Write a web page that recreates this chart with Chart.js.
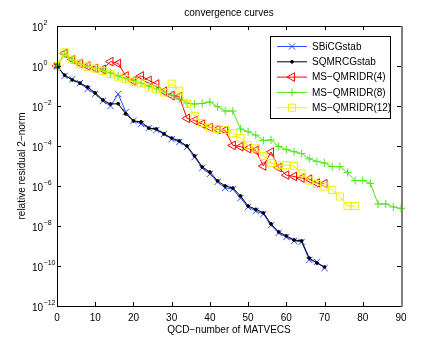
<!DOCTYPE html>
<html lang="en">
<head>
    <meta charset="UTF-8">
    <title>convergence curves</title>
    <script src="https://cdn.jsdelivr.net/npm/chart.js"></script>
    <style>
        body { margin: 0; background: #fff; }
        canvas { display: block; }
    </style>
</head>
<body>
    <canvas id="convChart" width="443" height="346"></canvas>

    <script>
        // number of matvecs at each iterate (x values)
        const matvecs = [0, 2, 4, 6, 8, 10, 12, 14, 16, 18, 20, 22, 24, 26, 28, 30, 32, 34, 36, 38,
                         40, 42, 44, 46, 48, 50, 52, 54, 56, 58, 60, 62, 64, 66, 68, 70, 72, 74, 76, 78,
                         80, 82, 84, 86, 88, 90];

        // relative residual norms
        const sbicgstab = [1, 3.2e-1, 2.2e-1, 1.4e-1, 7.1e-2, 4.0e-2, 1.8e-2, 1.0e-2, 4.0e-2, 5.0e-3,
                           1.8e-3, 1.26e-3, 7.9e-4, 6.3e-4, 4.0e-4, 2.2e-4, 1.6e-4, 8.9e-5, 2.8e-5, 7.9e-6,
                           4.0e-6, 1.6e-6, 7.9e-7, 7.1e-7, 2.5e-7, 8.9e-8, 5.6e-8, 4.0e-8, 1.1e-8, 4.5e-9,
                           2.8e-9, 1.8e-9, 1.6e-9, 2.0e-10, 1.6e-10, 7.9e-11];
        const sqmrcgstab = [1, 3.5e-1, 2.0e-1, 1.4e-1, 8.9e-2, 4.5e-2, 2.0e-2, 1.26e-2, 1.3e-2, 4.0e-3,
                            1.8e-3, 1.6e-3, 7.9e-4, 7.1e-4, 4.0e-4, 2.5e-4, 1.8e-4, 1.0e-4, 3.2e-5, 8.9e-6,
                            5.0e-6, 1.8e-6, 1.0e-6, 7.9e-7, 3.2e-7, 1.0e-7, 6.8e-8, 4.5e-8, 1.26e-8, 5.0e-9,
                            3.2e-9, 2.0e-9, 1.8e-9, 2.5e-10, 1.4e-10, 8.9e-11];
        const qmridr4 = [1, 4.3, 2.1, 1.35, 1.0, 7.6e-1, 6.8e-1, 1.66, 1.35, 3.2e-1,
                         1.8e-1, 3.2e-1, 1.9e-1, 1.26e-1, 5.4e-2, 3.3e-2, 3.0e-2, 2.4e-3, 1.9e-3, 1.26e-3,
                         8.5e-4, 6.8e-4, 6.0e-4, 1.07e-4, 9.3e-5, 7.4e-5, 6.0e-5, 1.0e-5, 5.0e-5, 8.3e-6,
                         3.5e-6, 3.0e-6, 2.5e-6, 2.2e-6, 1.4e-6, 1.3e-6];
        const qmridr8 = [1, 4.0, 2.0, 1.32, 9.5e-1, 7.6e-1, 6.0e-1, 4.5e-1, 3.2e-1, 2.4e-1,
                         1.9e-1, 1.4e-1, 1.0e-1, 7.1e-2, 5.0e-2, 3.5e-2, 2.2e-2, 1.4e-2, 1.26e-2, 1.35e-2,
                         1.6e-2, 9.3e-3, 5.6e-3, 5.6e-3, 7.1e-4, 5.2e-4, 3.5e-4, 1.9e-4, 2.0e-4, 9.5e-5,
                         6.6e-5, 5.2e-5, 4.2e-5, 2.3e-5, 1.7e-5, 1.4e-5, 9.3e-6, 9.3e-6, 4.7e-6, 1.86e-6,
                         1.9e-6, 1.35e-6, 1.26e-7, 1.26e-7, 8.9e-8, 7.6e-8];
        const qmridr12 = [1, 4.8, 2.1, 1.35, 9.3e-1, 7.4e-1, 5.6e-1, 4.0e-1, 2.7e-1, 2.2e-1,
                          1.66e-1, 1.35e-1, 8.5e-2, 6.8e-2, 4.7e-2, 1.3e-1, 5.9e-2, 1.26e-2, 3.2e-3, 1.4e-3,
                          8.3e-4, 7.1e-4, 6.3e-4, 4.3e-4, 2.5e-4, 1.1e-4, 7.6e-5, 3.2e-5, 1.4e-5, 1.1e-5,
                          1.1e-5, 1.0e-5, 4.3e-6, 1.86e-6, 1.26e-6, 9.3e-7, 6.3e-7, 3.0e-7, 1.0e-7, 1.0e-7];

        const seriesNames = ['SBiCGstab', 'SQMRCGstab', 'MS\u2212QMRIDR(4)', 'MS\u2212QMRIDR(8)', 'MS\u2212QMRIDR(12)'];

        // tick labels
        const xTicks = [0, 10, 20, 30, 40, 50, 60, 70, 80, 90];
        const yTickExps = [2, 0, -2, -4, -6, -8, -10, -12];

        const FONT = '"Liberation Sans", Arial, Helvetica, sans-serif';

        function toPoints(values) {
            return values.map((v, i) => ({ x: matvecs[i], y: v }));
        }

        const styles = [
            { color: '#2a4dff', pointStyle: 'crossRot', radius: 4.5, rotation: 0, fill: 'rgba(0,0,0,0)', order: 5 },
            { color: '#000000', pointStyle: 'circle', radius: 1.4, rotation: 0, fill: '#000000', order: 4 },
            { color: '#ff0000', pointStyle: 'triangle', radius: 5, rotation: 270, fill: 'rgba(0,0,0,0)', order: 3 },
            { color: '#4fe61a', pointStyle: 'cross', radius: 4, rotation: 0, fill: 'rgba(0,0,0,0)', order: 2 },
            { color: '#f0f000', pointStyle: 'rect', radius: 5, rotation: 0, fill: 'rgba(0,0,0,0)', order: 1 },
        ];
        const seriesData = [sbicgstab, sqmrcgstab, qmridr4, qmridr8, qmridr12];

        // axes, frame, labels and the boxed legend, matlab style
        const framePlugin = {
            id: 'frame',
            afterDraw(chart) {
                const ctx = chart.ctx;
                const area = chart.chartArea;
                const xs = chart.scales.x;
                const ys = chart.scales.y;
                ctx.save();

                // inward ticks
                ctx.strokeStyle = '#000';
                ctx.lineWidth = 1;
                ctx.beginPath();
                xTicks.forEach(v => {
                    const px = Math.round(xs.getPixelForValue(v)) + 0.5;
                    ctx.moveTo(px, area.bottom); ctx.lineTo(px, area.bottom - 4);
                    ctx.moveTo(px, area.top); ctx.lineTo(px, area.top + 4);
                });
                yTickExps.forEach(e => {
                    const py = Math.round(ys.getPixelForValue(Math.pow(10, e))) + 0.5;
                    ctx.moveTo(area.left, py); ctx.lineTo(area.left + 4, py);
                    ctx.moveTo(area.right, py); ctx.lineTo(area.right - 4, py);
                });
                ctx.stroke();

                // frame
                ctx.beginPath();
                ctx.moveTo(area.left + 0.5, area.top + 0.5);
                ctx.lineTo(area.left + 0.5, area.bottom + 0.5);
                ctx.lineTo(area.right, area.bottom + 0.5);
                ctx.moveTo(area.left, area.top + 0.5);
                ctx.lineTo(area.right, area.top + 0.5);
                ctx.stroke();
                ctx.strokeStyle = '#7f7f7f';
                ctx.lineWidth = 2;
                ctx.beginPath();
                ctx.moveTo(area.right + 1, area.top);
                ctx.lineTo(area.right + 1, area.bottom + 1);
                ctx.stroke();

                // tick labels
                ctx.fillStyle = '#000';
                ctx.font = '10px ' + FONT;
                ctx.textAlign = 'center';
                ctx.textBaseline = 'alphabetic';
                xTicks.forEach(v => {
                    ctx.fillText(String(v), xs.getPixelForValue(v), area.bottom + 15);
                });
                yTickExps.forEach(e => {
                    const py = ys.getPixelForValue(Math.pow(10, e));
                    ctx.textAlign = 'left';
                    ctx.font = '10px ' + FONT;
                    ctx.fillText('10', 32, py + 5);
                    const w = ctx.measureText('10').width;
                    ctx.font = '7px ' + FONT;
                    ctx.fillText(e < 0 ? '\u2212' + Math.abs(e) : String(e), 32 + w + 0.5, py - 1);
                });

                // titles
                ctx.font = '10px ' + FONT;
                ctx.textAlign = 'center';
                ctx.fillText('convergence curves', (area.left + area.right) / 2, 16);
                ctx.fillText('QCD\u2212number of MATVECS', (area.left + area.right) / 2, 333);
                ctx.save();
                ctx.translate(25, (area.top + area.bottom) / 2);
                ctx.rotate(-Math.PI / 2);
                ctx.fillText('relative residual 2\u2212norm', 0, 0);
                ctx.restore();

                // legend box
                const lx = 270, ly = 36, lw = 120, lh = 82;
                ctx.fillStyle = '#fff';
                ctx.fillRect(lx, ly, lw, lh);
                ctx.strokeStyle = '#000';
                ctx.lineWidth = 1;
                ctx.strokeRect(lx + 0.5, ly + 0.5, lw, lh);
                ctx.font = '10px ' + FONT;
                ctx.textAlign = 'left';
                ctx.textBaseline = 'middle';
                seriesNames.forEach((name, i) => {
                    const s = styles[i];
                    const y = ly + 10.5 + i * 15.3;
                    ctx.strokeStyle = s.color;
                    ctx.lineWidth = 1;
                    ctx.beginPath();
                    ctx.moveTo(277, y); ctx.lineTo(307, y);
                    ctx.stroke();
                    ctx.fillStyle = s.fill;
                    Chart.helpers.drawPoint(ctx, {
                        pointStyle: s.pointStyle, rotation: s.rotation, radius: s.radius, borderWidth: 1
                    }, 292, y);
                    ctx.fillStyle = '#000';
                    ctx.fillText(name, 312, y + 0.5);
                });
                ctx.restore();
            }
        };

        const ctx = document.getElementById('convChart').getContext('2d');
        new Chart(ctx, {
            type: 'line',
            data: {
                datasets: seriesData.map((values, i) => ({
                    label: seriesNames[i],
                    data: toPoints(values),
                    borderColor: styles[i].color,
                    backgroundColor: styles[i].fill,
                    pointBorderColor: styles[i].color,
                    pointBackgroundColor: styles[i].fill,
                    pointStyle: styles[i].pointStyle,
                    pointRotation: styles[i].rotation,
                    pointRadius: styles[i].radius,
                    pointBorderWidth: 1,
                    borderWidth: 1,
                    tension: 0,
                    fill: false,
                    clip: false,
                    order: styles[i].order,
                })),
            },
            options: {
                responsive: false,
                animation: false,
                devicePixelRatio: 1,
                layout: { padding: { left: 57, right: 42, top: 26, bottom: 40 } },
                plugins: {
                    legend: { display: false },
                    tooltip: { enabled: false },
                },
                scales: {
                    x: { type: 'linear', min: 0, max: 90, display: false },
                    y: { type: 'logarithmic', min: 1e-12, max: 1e2, display: false },
                },
            },
            plugins: [framePlugin],
        });
    </script>
</body>
</html>
